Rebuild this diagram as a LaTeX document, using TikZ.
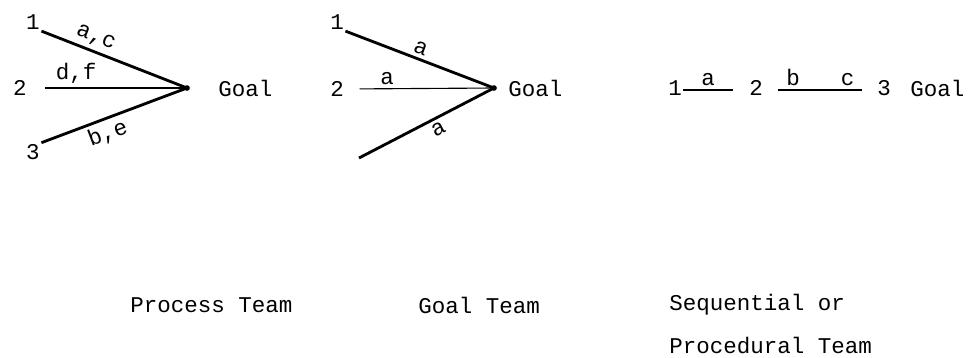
\documentclass[tikz,border=0pt]{standalone}
\usepackage{fontspec}
\setmonofont{Liberation Mono}
\usetikzlibrary{positioning, calc}
\newcommand{\typefont}{\ttfamily\fontsize{16}{19}\selectfont}
\tikzset{
  num/.style     = {inner sep=1pt, font=\typefont},
  goal/.style    = {anchor=west, inner sep=0pt, font=\typefont},
  lbl/.style     = {font=\typefont, inner sep=2.5pt},
  chan/.style    = {line width=2pt},
  flat/.style    = {line width=0.8pt},
  caption/.style = {anchor=west, inner sep=0pt, font=\typefont}
}
\begin{document}
\begin{tikzpicture}[x=0.025cm, y=-0.025cm]
\path[use as bounding box] (0,0) rectangle (974,357);

% process team
\node[num]  (p1a)    at ( 33, 22) {1};
\node[num]  (p1b)    at ( 20, 88) {2};
\node[num]  (p1c)    at ( 33,152) {3};
\coordinate (p1x)    at (187, 88);
\node[goal] (p1goal) at (218, 88) {Goal};

\draw[chan] (p1a.south east) -- node[lbl, above, sloped, pos=0.34] {a,c} (p1x);
\draw[flat, shorten <=12pt] (p1b.east) -- node[lbl, above, pos=0.3] {d,f} (p1x);
\draw[chan] (p1c.north east) -- node[lbl, below, sloped, pos=0.42] {b,e} (p1x);
\fill (p1x) circle[radius=2pt];

% goal team
\node[num]  (p2a)    at (337, 22) {1};
\node[num]  (p2b)    at (337, 89) {2};
\coordinate (p2c)    at (359,158);
\coordinate (p2x)    at (494, 88);
\node[goal] (p2goal) at (508, 88) {Goal};

\draw[chan] (p2a.south east) -- node[lbl, above, sloped, pos=0.48] {a} (p2x);
\draw[flat, shorten <=10pt] (p2b.east) -- node[lbl, above, pos=0.28] {a} (p2x);
\draw[chan] (p2c) -- node[lbl, below, sloped, pos=0.55] {a} (p2x);
\fill (p2x) circle[radius=2pt];

% sequential team
\node[num]  (s1)     at (675, 88) {1};
\node[num]  (s2)     at (756, 88) {2};
\node[num]  (s3)     at (884, 88) {3};
\node[goal] (s3goal) at (910, 88) {Goal};
\coordinate (s1end)  at (733, 90);
\coordinate (s2beg)  at (778, 90);
\coordinate (s2end)  at (862, 90);

\draw[flat] (s1.east |- s1end) -- node[lbl, above] {a} (s1end);
\draw[flat] (s2beg) -- node[lbl, above, pos=0.18] {b}
                       node[lbl, above, pos=0.83] {c} (s2end);

% captions
\node[caption] (cap1) at (130,305) {Process Team};
\node[caption] (cap2) at (418,305) {Goal Team};
\node[caption] (cap3) at (669,305) {Sequential or};
\node[caption] (cap4) at (669,345) {Procedural Team};
\end{tikzpicture}
\end{document}
